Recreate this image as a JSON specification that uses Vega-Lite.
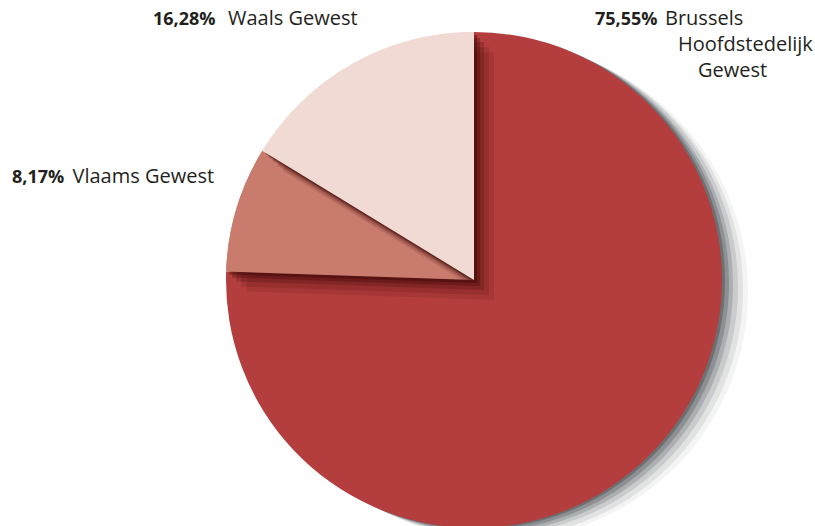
{
  "$schema": "https://vega.github.io/schema/vega-lite/v6.json",
  "width": 496,
  "height": 496,
  "autosize": {"type": "none"},
  "padding": {"left": 226, "top": 32, "right": 93, "bottom": 0},
  "background": "white",
  "config": {"view": {"stroke": null}, "text": {"font": "Open Sans", "fontSize": 20, "color": "#231f20"}},
  "data": {
    "values": [
      {"region": "Brussels Hoofdstedelijk Gewest", "value": 75.55, "pct": "75,55%", "line1": "Brussels", "line2": "Hoofdstedelijk", "line3": "Gewest"},
      {"region": "Vlaams Gewest", "value": 8.17, "pct": "8,17%", "line1": "Vlaams Gewest", "line2": "", "line3": ""},
      {"region": "Waals Gewest", "value": 16.28, "pct": "16,28%", "line1": "Waals Gewest", "line2": "", "line3": ""}
    ]
  },
  "encoding": {
    "theta": {"field": "value", "type": "quantitative", "stack": true},
    "order": {"field": "region", "type": "ordinal"}
  },
  "layer": [
    {"mark": {"type": "arc", "outerRadius": 248, "fill": "#3c4045", "fillOpacity": 0.06, "xOffset": 26, "yOffset": 12}},
    {"mark": {"type": "arc", "outerRadius": 248, "fill": "#3c4045", "fillOpacity": 0.1, "xOffset": 21, "yOffset": 10}},
    {"mark": {"type": "arc", "outerRadius": 248, "fill": "#3c4045", "fillOpacity": 0.14, "xOffset": 16, "yOffset": 7}},
    {"mark": {"type": "arc", "outerRadius": 248, "fill": "#3c4045", "fillOpacity": 0.2, "xOffset": 11, "yOffset": 5}},
    {"mark": {"type": "arc", "outerRadius": 248, "fill": "#3c4045", "fillOpacity": 0.28, "xOffset": 7, "yOffset": 3}},
    {"mark": {"type": "arc", "outerRadius": 248, "fill": "#3c4045", "fillOpacity": 0.4, "xOffset": 3, "yOffset": 1}},
    {
      "mark": {"type": "arc", "outerRadius": 248},
      "encoding": {
        "color": {"field": "region", "type": "nominal", "legend": null,
          "scale": {"domain": ["Brussels Hoofdstedelijk Gewest", "Vlaams Gewest", "Waals Gewest"], "range": ["#b43e3e", "#c97c6e", "#f1dad3"]}}
      }
    },
    {"mark": {"type": "arc", "outerRadius": 248, "fill": "#3a0404", "xOffset": 20, "yOffset": 20},
     "encoding": {"opacity": {"condition": {"test": "datum.region === 'Vlaams Gewest'", "value": 0.1}, "value": 0}}},
    {"mark": {"type": "arc", "outerRadius": 248, "fill": "#3a0404", "xOffset": 15, "yOffset": 15},
     "encoding": {"opacity": {"condition": {"test": "datum.region === 'Vlaams Gewest'", "value": 0.15}, "value": 0}}},
    {"mark": {"type": "arc", "outerRadius": 248, "fill": "#3a0404", "xOffset": 10, "yOffset": 10},
     "encoding": {"opacity": {"condition": {"test": "datum.region === 'Vlaams Gewest'", "value": 0.22}, "value": 0}}},
    {"mark": {"type": "arc", "outerRadius": 248, "fill": "#3a0404", "xOffset": 6, "yOffset": 6},
     "encoding": {"opacity": {"condition": {"test": "datum.region === 'Vlaams Gewest'", "value": 0.3}, "value": 0}}},
    {"mark": {"type": "arc", "outerRadius": 248, "fill": "#3a0404", "xOffset": 3, "yOffset": 3},
     "encoding": {"opacity": {"condition": {"test": "datum.region === 'Vlaams Gewest'", "value": 0.4}, "value": 0}}},
    {"mark": {"type": "arc", "outerRadius": 248, "fill": "#c97c6e"},
     "encoding": {"opacity": {"condition": {"test": "datum.region === 'Vlaams Gewest'", "value": 1}, "value": 0}}},
    {"mark": {"type": "arc", "outerRadius": 248, "fill": "#3a0404", "xOffset": 20, "yOffset": 20},
     "encoding": {"opacity": {"condition": {"test": "datum.region === 'Waals Gewest'", "value": 0.1}, "value": 0}}},
    {"mark": {"type": "arc", "outerRadius": 248, "fill": "#3a0404", "xOffset": 15, "yOffset": 15},
     "encoding": {"opacity": {"condition": {"test": "datum.region === 'Waals Gewest'", "value": 0.15}, "value": 0}}},
    {"mark": {"type": "arc", "outerRadius": 248, "fill": "#3a0404", "xOffset": 10, "yOffset": 10},
     "encoding": {"opacity": {"condition": {"test": "datum.region === 'Waals Gewest'", "value": 0.22}, "value": 0}}},
    {"mark": {"type": "arc", "outerRadius": 248, "fill": "#3a0404", "xOffset": 6, "yOffset": 6},
     "encoding": {"opacity": {"condition": {"test": "datum.region === 'Waals Gewest'", "value": 0.3}, "value": 0}}},
    {"mark": {"type": "arc", "outerRadius": 248, "fill": "#3a0404", "xOffset": 3, "yOffset": 3},
     "encoding": {"opacity": {"condition": {"test": "datum.region === 'Waals Gewest'", "value": 0.4}, "value": 0}}},
    {"mark": {"type": "arc", "outerRadius": 248, "fill": "#f1dad3"},
     "encoding": {"opacity": {"condition": {"test": "datum.region === 'Waals Gewest'", "value": 1}, "value": 0}}},
    {"mark": {"type": "text", "radius": 409.96, "thetaOffset": -0.3882, "align": "left", "baseline": "alphabetic", "fontWeight": "bold", "fontSize": 18},
     "encoding": {"text": {"condition": {"test": "datum.region === 'Waals Gewest'", "field": "pct"}, "value": ""}}},
    {"mark": {"type": "text", "radius": 358.5, "thetaOffset": -0.2681, "align": "left", "baseline": "alphabetic", "dx": 6},
     "encoding": {"text": {"condition": {"test": "datum.region === 'Waals Gewest'", "field": "line1"}, "value": ""}}},
    {"mark": {"type": "text", "radius": 472.1, "thetaOffset": -0.0843, "align": "left", "baseline": "alphabetic", "fontWeight": "bold", "fontSize": 18},
     "encoding": {"text": {"condition": {"test": "datum.region === 'Vlaams Gewest'", "field": "pct"}, "value": ""}}},
    {"mark": {"type": "text", "radius": 417.9, "thetaOffset": -0.0572, "align": "left", "baseline": "alphabetic", "dx": 5},
     "encoding": {"text": {"condition": {"test": "datum.region === 'Vlaams Gewest'", "field": "line1"}, "value": ""}}},
    {"mark": {"type": "text", "radius": 282.3, "thetaOffset": -1.9305, "align": "left", "baseline": "alphabetic", "fontWeight": "bold", "fontSize": 18},
     "encoding": {"text": {"condition": {"test": "datum.region === 'Brussels Hoofdstedelijk Gewest'", "field": "pct"}, "value": ""}}},
    {"mark": {"type": "text", "radius": 316.8, "thetaOffset": -1.7382, "align": "left", "baseline": "alphabetic", "dx": 3},
     "encoding": {"text": {"condition": {"test": "datum.region === 'Brussels Hoofdstedelijk Gewest'", "field": "line1"}, "value": ""}}},
    {"mark": {"type": "text", "radius": 306.7, "thetaOffset": -1.6457, "align": "left", "baseline": "alphabetic"},
     "encoding": {"text": {"condition": {"test": "datum.region === 'Brussels Hoofdstedelijk Gewest'", "field": "line2"}, "value": ""}}},
    {"mark": {"type": "text", "radius": 302.3, "thetaOffset": -1.5390, "align": "left", "baseline": "alphabetic"},
     "encoding": {"text": {"condition": {"test": "datum.region === 'Brussels Hoofdstedelijk Gewest'", "field": "line3"}, "value": ""}}}
  ]
}
